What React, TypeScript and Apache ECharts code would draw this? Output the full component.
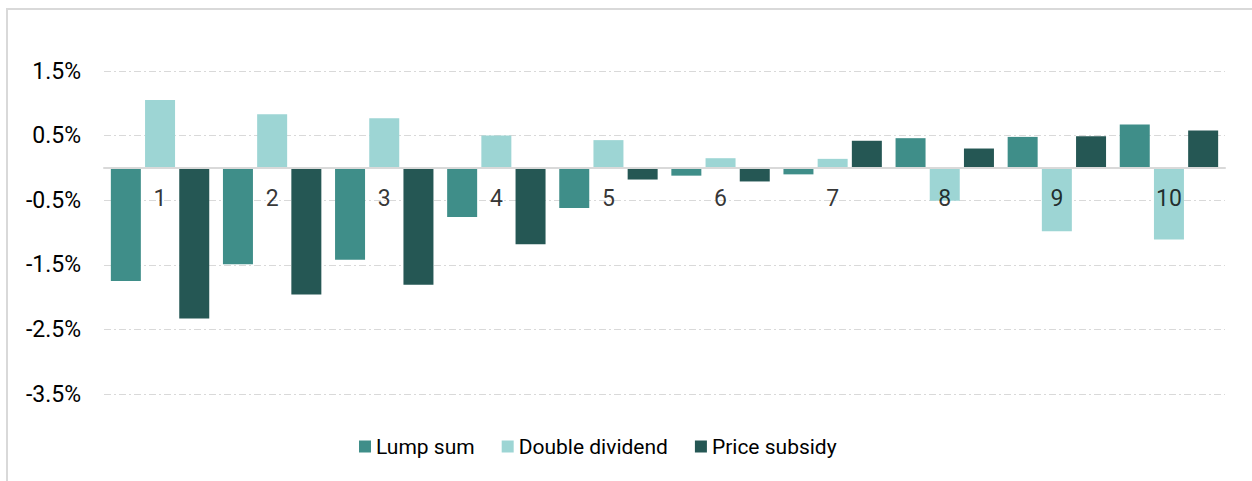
import React, { useEffect, useRef } from "react";
import * as echarts from "echarts";

const categories = ["1", "2", "3", "4", "5", "6", "7", "8", "9", "10"];
const lumpSum = [-1.75, -1.49, -1.42, -0.76, -0.62, -0.12, -0.1, 0.46, 0.48, 0.67];
const doubleDividend = [1.05, 0.83, 0.77, 0.5, 0.43, 0.15, 0.14, -0.51, -0.98, -1.11];
const priceSubsidy = [-2.33, -1.96, -1.81, -1.18, -0.18, -0.21, 0.42, 0.3, 0.49, 0.58];
const seriesNames = ["Lump sum", "Double dividend", "Price subsidy"];
const colors = ["#3F8E89", "#9DD5D4", "#255754"];
const yMin = -3.5;
const yMax = 1.5;
const yInterval = 1;

export default function App() {
  const ref = useRef<HTMLDivElement>(null);
  useEffect(() => {
    if (!ref.current) return;
    const chart = echarts.init(ref.current, null, { renderer: "svg" });
    const font = "Roboto";
    const mk = (name: string, data: number[], color: string) => ({
      name,
      type: "bar",
      data,
      barWidth: 30,
      barGap: "14%",
      itemStyle: { color },
      z: 2,
    });
    chart.setOption({
      animation: false,
      color: colors,
      textStyle: { fontFamily: font },
      graphic: [
        {
          type: "rect",
          shape: { x: 7, y: 9, width: 1260, height: 490 },
          style: { fill: "none", stroke: "#D9D9D9", lineWidth: 2 },
          silent: true,
        },
      ],
      grid: { left: 104, right: 27, top: 71, bottom: 87, containLabel: false },
      legend: {
        left: 354,
        top: 431,
        icon: "rect",
        itemWidth: 12,
        itemHeight: 12,
        itemGap: 27,
        textStyle: { fontFamily: font, fontSize: 21, color: "#000" },
        data: seriesNames,
      },
      xAxis: {
        type: "category",
        data: categories,
        z: 10,
        axisLine: { onZero: true, lineStyle: { color: "#D9D9D9", width: 2 } },
        axisTick: { show: false },
        axisLabel: { show: false },
        splitLine: { show: false },
      },
      yAxis: {
        type: "value",
        min: yMin,
        max: yMax,
        interval: yInterval,
        axisLine: { show: false },
        axisTick: { show: false },
        axisLabel: {
          fontFamily: font,
          fontSize: 23,
          color: "#000",
          margin: 23,
          formatter: (v: number) => v.toFixed(1) + "%",
        },
        splitLine: {
          lineStyle: { color: "#D9D9D9", width: 1, type: [7, 3, 2, 3] },
        },
      },
      series: [
        mk(seriesNames[0], lumpSum, colors[0]),
        mk(seriesNames[1], doubleDividend, colors[1]),
        mk(seriesNames[2], priceSubsidy, colors[2]),
        {
          name: "categoryLabels",
          type: "scatter",
          data: categories.map((c) => [c, 0]),
          symbolSize: 0,
          z: 20,
          silent: true,
          legendHoverLink: false,
          label: {
            show: true,
            position: "bottom",
            distance: 19,
            fontFamily: font,
            fontSize: 23,
            color: "#000",
            formatter: (p: any) => p.value[0],
          },
        },
      ],
    });
    return () => chart.dispose();
  }, []);
  return (
    <div
      ref={ref}
      style={{ position: "absolute", left: 0, top: 0, width: 1252, height: 481, background: "#fff" }}
    />
  );
}
